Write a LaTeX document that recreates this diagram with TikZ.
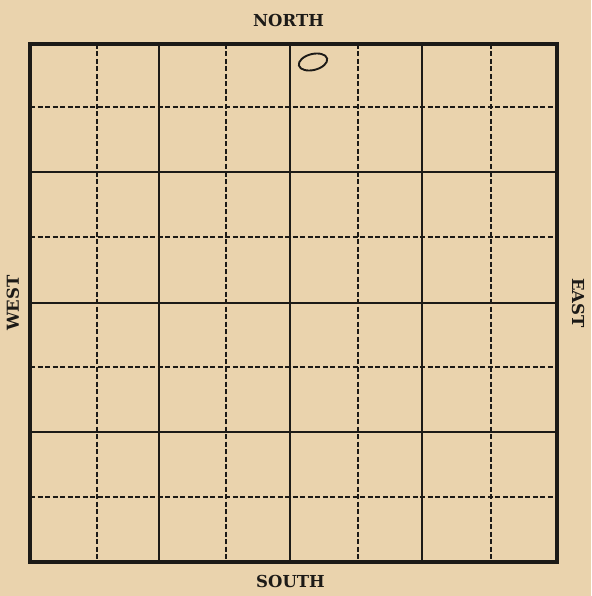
\documentclass[tikz,border=0pt]{standalone}
\usepackage{fontspec}
\setmainfont{DejaVu Serif}
\usetikzlibrary{positioning}
\definecolor{paper}{RGB}{234,211,173}
\definecolor{ink}{HTML}{1C1A17}

\begin{document}
\begin{tikzpicture}[
  x=1pt, y=-1pt,
  board/.style={draw=ink, line width=3.6pt, minimum width=527pt, minimum height=518pt, inner sep=0pt},
  major/.style={draw=ink, line width=2.3pt},
  minor/.style={draw=ink, line width=1.8pt, dash pattern=on 5pt off 2.5pt},
  compass/.style={font=\bfseries\fontsize{16.5}{17}\selectfont, text=ink, inner sep=0pt}
]
\fill[paper] (0,0) rectangle (591,596);
\useasboundingbox (0,0) rectangle (591,596);
% the square, cut into eighths
\foreach \x in {97,226,358,491} \draw[minor] (\x,44) -- (\x,562);
\foreach \y in {107,237,367,497} \draw[minor] (30,\y) -- (557,\y);
\foreach \x in {159,290,422} \draw[major] (\x,44) -- (\x,562);
\foreach \y in {172,303,432} \draw[major] (30,\y) -- (557,\y);
\node[board] (board) at (293.5,303) {};
% points of the compass
\node[compass, above=15pt of board, xshift=-5pt] (north) {NORTH};
\node[compass, below=11pt of board, xshift=-3pt] (south) {SOUTH};
\node[compass, left=12pt of board, anchor=south, rotate=90, yshift=-3pt] (west) {WEST};
\node[compass, right=13pt of board, anchor=south, rotate=-90] (east) {EAST};
% pencil mark
\draw[ink, line width=1.9pt, rotate around={14:(313,62)}] (313,62) ellipse (14.5pt and 8pt);
\end{tikzpicture}
\end{document}
